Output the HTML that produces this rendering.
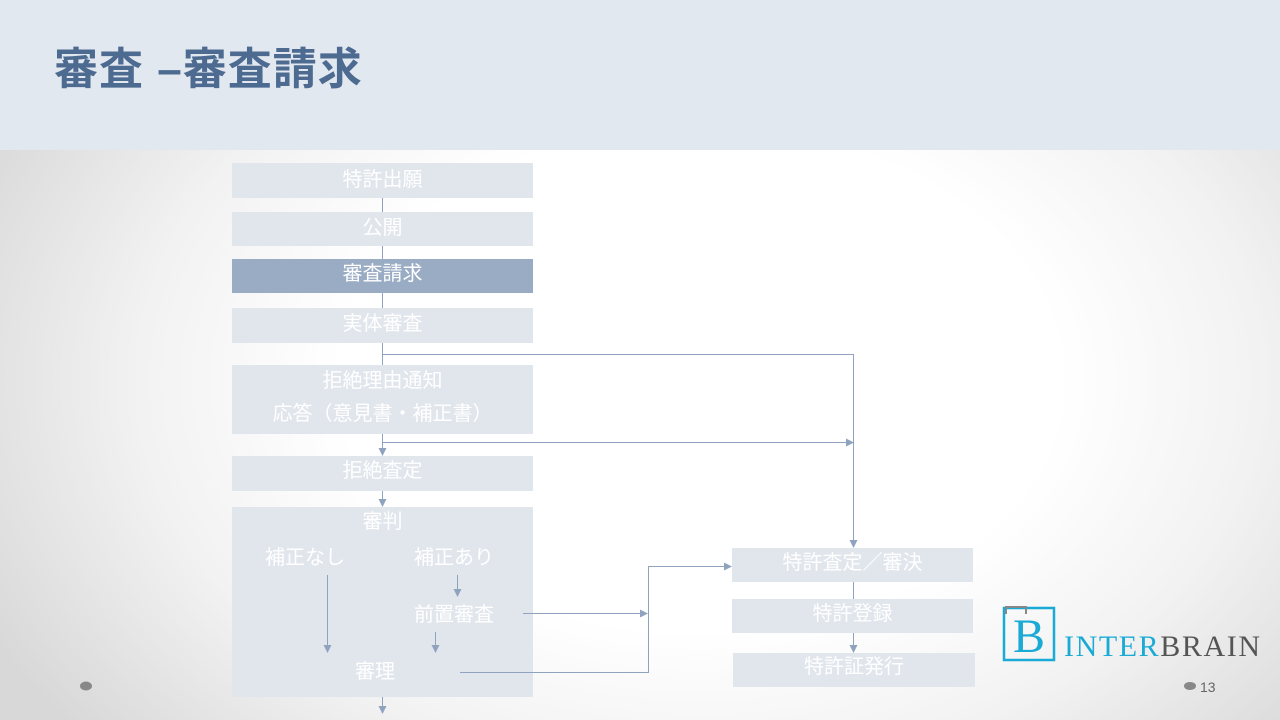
<!DOCTYPE html>
<html><head><meta charset="utf-8"><style>
body{margin:0;width:1280px;height:720px;overflow:hidden;position:relative;font-family:"Liberation Sans","Noto Sans CJK JP",sans-serif;background:radial-gradient(ellipse 800px 560px at 700px 380px,#fff 45%,#f2f2f2 70%,#d8d8d8 100%);}
.hdr{position:absolute;left:0;top:0;width:1280px;height:150px;background:#e2e8ef}
.title{position:absolute;left:54px;top:42px;font-size:44px;font-weight:bold;color:#4d6a91;letter-spacing:1px;line-height:56px}
.b{position:absolute;background:#e1e6ed;color:#fff;font-size:20px;text-align:center;box-sizing:border-box}
.t{position:absolute;color:#fff;font-size:20px;white-space:nowrap}
svg{position:absolute;left:0;top:0}
</style></head><body>
<div class="hdr"></div>
<div class="title">審査 –審査請求</div>
<div class="b" style="left:232px;top:163px;width:301px;height:35px;line-height:34px">特許出願</div>
<div class="b" style="left:232px;top:212px;width:301px;height:34px;line-height:33px">公開</div>
<div class="b" style="left:232px;top:259px;width:301px;height:34px;line-height:30px;background:#9aabc4">審査請求</div>
<div class="b" style="left:232px;top:308px;width:301px;height:35px;line-height:32px">実体審査</div>
<div class="b" style="left:232px;top:365px;width:301px;height:69px;line-height:33px;padding-top:0px">拒絶理由通知<br>応答（意見書・補正書）</div>
<div class="b" style="left:232px;top:456px;width:301px;height:35px;line-height:30px">拒絶査定</div>
<div class="b" style="left:232px;top:507px;width:301px;height:190px;line-height:30px">審判</div>
<div class="t" style="left:265px;top:541px">補正なし</div>
<div class="t" style="left:414px;top:541px">補正あり</div>
<div class="t" style="left:414px;top:598px">前置審査</div>
<div class="t" style="left:355px;top:655px">審理</div>
<div class="b" style="left:732px;top:548px;width:241px;height:34px;line-height:30px">特許査定／審決</div>
<div class="b" style="left:732px;top:599px;width:241px;height:34px;line-height:30px">特許登録</div>
<div class="b" style="left:733px;top:653px;width:242px;height:34px;line-height:28px">特許証発行</div>
<svg width="1280" height="720">
<defs><marker id="a" markerWidth="8" markerHeight="8" refX="7" refY="4" orient="auto" markerUnits="userSpaceOnUse"><path d="M0,0 L8,4 L0,8z" fill="#8fa3bf"/></marker></defs>
<g stroke="#8fa3bf" stroke-width="1" fill="none">
<line x1="382.5" y1="198" x2="382.5" y2="212"/>
<line x1="382.5" y1="246" x2="382.5" y2="259"/>
<line x1="382.5" y1="293" x2="382.5" y2="308"/>
<line x1="382.5" y1="343" x2="382.5" y2="365"/>
<polyline points="382,354.5 853.5,354.5 853.5,547" marker-end="url(#a)"/>
<line x1="382.5" y1="434" x2="382.5" y2="455" marker-end="url(#a)"/>
<line x1="382" y1="442.5" x2="853" y2="442.5" marker-end="url(#a)"/>
<line x1="382.5" y1="491" x2="382.5" y2="506" marker-end="url(#a)"/>
<line x1="327.5" y1="575" x2="327.5" y2="652" marker-end="url(#a)"/>
<line x1="457.5" y1="575" x2="457.5" y2="596" marker-end="url(#a)"/>
<line x1="435.5" y1="632" x2="435.5" y2="652" marker-end="url(#a)"/>
<line x1="523" y1="613.5" x2="647" y2="613.5" marker-end="url(#a)"/>
<polyline points="460,672.5 648.5,672.5 648.5,566.5 731,566.5" marker-end="url(#a)"/>
<line x1="382.5" y1="697" x2="382.5" y2="713" marker-end="url(#a)"/>
<line x1="853.5" y1="582" x2="853.5" y2="599"/>
<line x1="853.5" y1="633" x2="853.5" y2="652" marker-end="url(#a)"/>
</g>
<ellipse cx="86" cy="686" rx="6" ry="4.5" fill="#888"/>
<ellipse cx="1190" cy="686" rx="6" ry="4" fill="#888"/>
<rect x="1004" y="608" width="50" height="52" fill="none" stroke="#1aaad6" stroke-width="2.5"/>
<path d="M1006,614 V607 H1026 V614" fill="none" stroke="#888" stroke-width="2"/>
<text x="1029" y="652" font-family="Liberation Serif" font-size="48" fill="#1aaad6" text-anchor="middle">B</text>
<text x="1064" y="656" font-family="Liberation Serif" font-size="30" fill="#1aaad6" textLength="196" lengthAdjust="spacing">INTER<tspan fill="#555">BRAIN</tspan></text>
<text x="1200" y="692" font-family="Liberation Sans" font-size="14" fill="#666">13</text>
</svg>
</body></html>
